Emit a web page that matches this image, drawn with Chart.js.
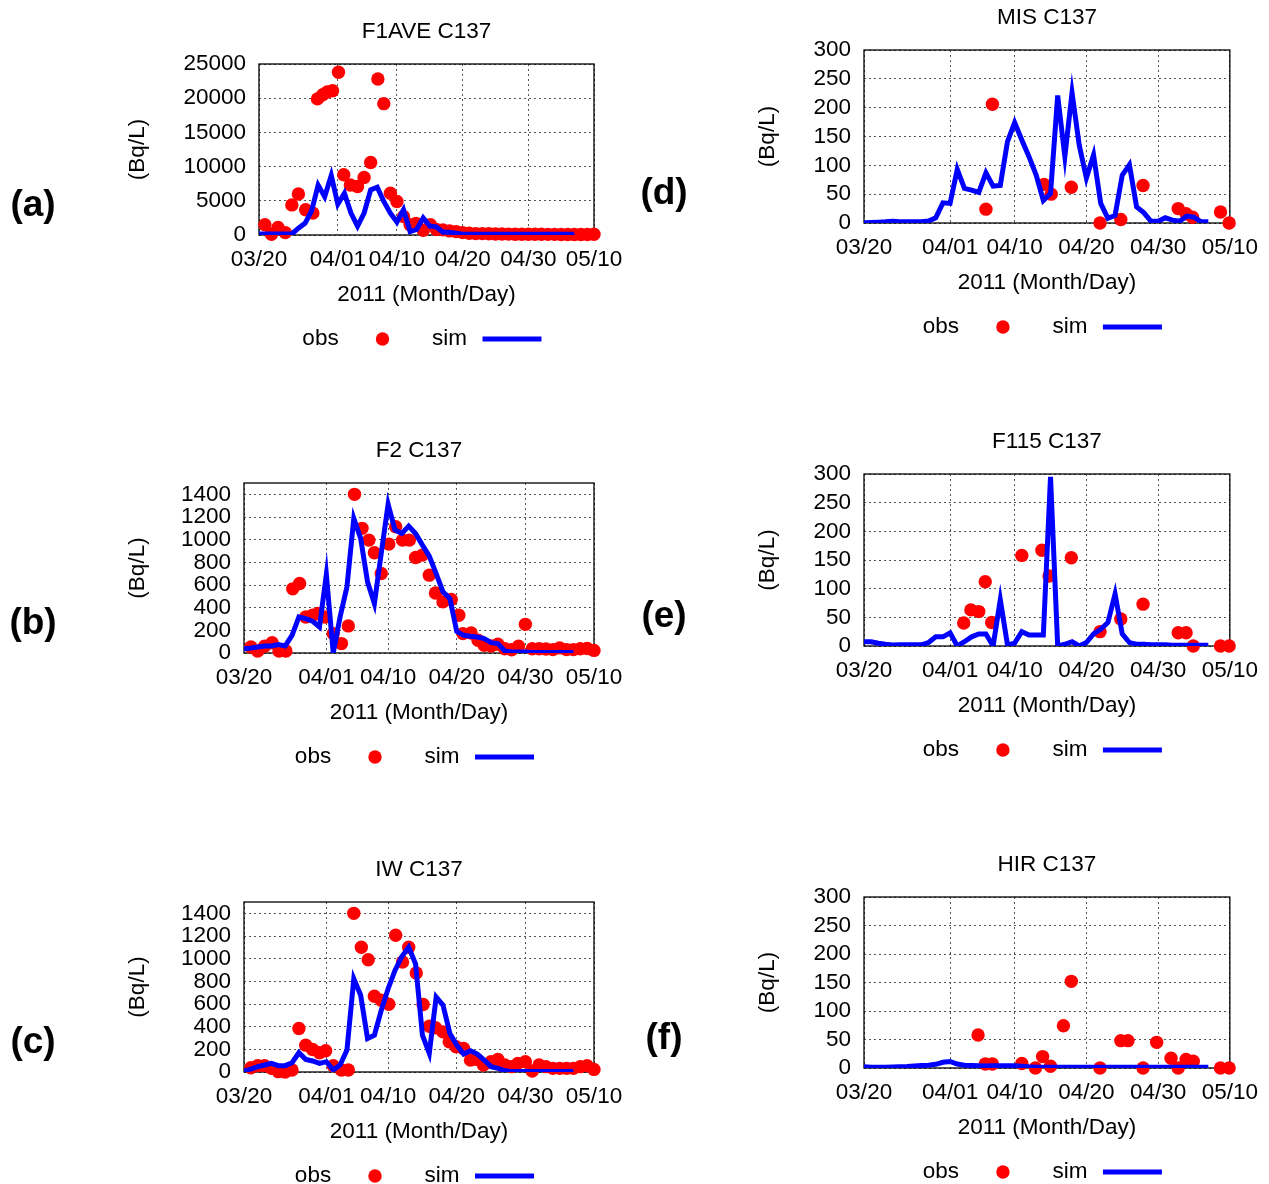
<!DOCTYPE html>
<html>
<head>
<meta charset="utf-8">
<script src="https://cdn.jsdelivr.net/npm/chart.js@4.4.1/dist/chart.umd.min.js"></script>
<style>
  html, body { margin: 0; padding: 0; background: #fff; }
  body { width: 1269px; height: 1184px; position: relative; overflow: hidden; }
  canvas { position: absolute; }
</style>
</head>
<body>
<canvas id="pa"></canvas>
<canvas id="pb"></canvas>
<canvas id="pc"></canvas>
<canvas id="pd"></canvas>
<canvas id="pe"></canvas>
<canvas id="pf"></canvas>
<script>
// x axis: days since 03/20 (2011)
const tickDays = [0, 12, 21, 31, 41, 51];
const tickLabels = ['03/20', '04/01', '04/10', '04/20', '04/30', '05/10'];

const yTicksA = [0, 5000, 10000, 15000, 20000, 25000];
const yTicksBC = [0, 200, 400, 600, 800, 1000, 1200, 1400];
const yTicksDEF = [0, 50, 100, 150, 200, 250, 300];

// simulated values are daily, 03/20 .. 05/07
const simDays = [0,1,2,3,4,5,6,7,8,9,10,11,12,13,14,15,16,17,18,19,20,21,22,23,24,
  25,26,27,28,29,30,31,32,33,34,35,36,37,38,39,40,41,42,43,44,45,46,47,48];

// (a) F1AVE
const obsDaysA = [0.9,1.9,2.9,4,5,6,7.1,8.2,8.9,9.7,10.4,11.2,12.1,12.9,13.9,15,16,17,18.1,19,
  20,21,22,23,23.9,25,26.1,27,28,29,30,31,32,33,34,35,36,37,38,39,40,41,42,43,44,45,46,47,48,49,50,51];
const obsA = [1500,100,1100,350,4400,6000,3700,3200,19900,20500,20900,21100,23800,8800,7300,7100,8400,10600,22800,19200,
  6100,4900,2700,1500,1700,700,1500,800,750,600,500,350,250,200,200,180,150,150,130,120,120,100,100,100,90,90,80,80,80,70,70,100];
const simA = [150,150,150,150,150,150,1000,1700,3500,7300,5600,8700,4500,6100,3200,1300,3200,6600,7000,4900,
  3200,1900,3700,500,800,2500,1300,1200,400,400,250,100,100,100,120,120,120,120,120,120,
  120,100,100,100,100,100,100,100,100];

// (b) F2
const obsDaysB = [1,2,3,4.1,5.1,6.1,7.1,8.1,9,10,10.8,11.8,13,14.2,15.2,16.1,17.2,18.2,19,20,
  21.1,22.1,23.1,24.1,25,26,27,27.9,29,30.2,31.3,31.9,33.1,34.1,35,36,37,38,39,40,41,42,43,44,45,46,47,48,49,50,51];
const obsB = [53,18,59,91,18,18,566,613,318,333,348,318,171,83,239,1400,1100,996,884,701,
  961,1114,996,996,843,864,687,530,451,472,333,171,177,112,68,62,77,38,29,59,253,38,38,35,30,45,30,30,38,40,23];
const simB = [38,44,53,62,62,74,62,156,318,303,280,230,693,0,318,583,1188,1011,628,436,
  880,1314,1085,1055,1120,1055,952,855,701,539,480,190,156,147,141,127,91,83,18,9,
  9,9,5,5,5,5,5,5,5];

// (c) IW
const obsDaysC = [1,2,3,4,5,6,7,8,9,10,11,11.9,13,14.2,15.2,16,17.1,18.1,19,20,
  21.1,22.1,23.1,24,25.1,26.1,27,27.9,29,29.9,30.9,32,33,33.9,34.9,36,37,38,39,39.9,41,42,43,44,45,46,47,48,49,50,51];
const obsC = [38,56,56,32,3,0,18,384,237,199,170,187,56,18,18,1400,1101,990,668,633,
  598,1207,970,1101,873,595,404,390,354,267,223,208,105,111,62,91,111,62,47,76,91,9,62,47,32,32,32,32,47,56,23];
const simC = [9,26,47,62,76,56,56,82,170,111,97,76,91,18,62,193,823,677,296,325,
  545,735,896,1019,1101,955,325,164,662,589,340,237,158,187,158,105,47,32,12,5,
  5,5,5,5,5,5,5,5,5];

// (d) MIS
const obsDaysD = [17,17.9,25.1,26.1,28.9,32.9,35.8,38.9,43.8,44.9,45.8,49.7,50.9];
const obsD = [24,206,67,50,62,0,6,65,25,16,10,19,0];
const simD = [0.5,1,1.5,2,3,2,2,2,2,3.5,9,35,34,93,60,57,53,87,64,65,
  141,174,144,115,83,39,51,221,115,226,135,78,118,34,8,13,83,101,28,18,
  3,3,9,5,3,12,10,2,2];

// (e) F115
const obsDaysE = [13.9,14.9,16,16.9,17.8,22,24.8,25.8,28.9,32.9,35.8,38.9,43.8,44.9,45.9,49.7,50.9];
const obsE = [40,63,60,112,41,158,167,122,154,25,47,73,23,23,0,0,0];
const simE = [7.5,7.5,4.7,3,1.7,2,2,2,2,6,16,16,23,0,7.5,16,21,21,0,81,
  2,5,25,19,19,19,295,0,3,7.5,0,6,21,29,41,91,21,6,3,3,
  2,2,2,1.5,1.5,1.5,1.5,1.5,1.5];

// (f) HIR
const obsDaysF = [15.9,16.9,17.9,22,23.9,24.9,26,27.8,28.9,32.9,35.8,36.8,38.9,40.8,42.8,43.8,44.9,45.9,49.7,50.9];
const obsF = [58,7,7,8,0,20,3,74,152,0,48,48,0,45,17,0,15,12,0,0];
const simF = [2,1.5,1.5,1.5,1.7,2,2.5,3.5,4.5,5,6.5,10,11.5,7,5,4.5,4,3.5,4,4,
  4,4,3,2,1.5,1.5,1.5,1.5,1.5,1.5,1.5,1.5,1.5,1.5,1.5,1.5,1.5,1.5,1.5,1.5,
  1.5,1.5,1.5,1.5,1.5,1.5,1.5,1.5,1.5];

const FONT = '"Liberation Sans", Arial, Helvetica, sans-serif';
const FS = 22.5;
const RED = '#ff0000';
const BLUE = '#0000ff';

// frame, titles, axis labels, legend and panel letter
const decor = {
  id: 'decor',
  beforeDatasetsDraw(chart) {
    const { ctx, chartArea: a } = chart;
    ctx.save();
    ctx.strokeStyle = '#000';
    ctx.lineWidth = 1.3;
    ctx.strokeRect(a.left, a.top, a.right - a.left, a.bottom - a.top);
    ctx.restore();
  },
  afterDraw(chart, args, o) {
    const { ctx, chartArea: a } = chart;
    const cx = (a.left + a.right) / 2;
    ctx.save();
    ctx.fillStyle = '#000';
    ctx.font = FS + 'px ' + FONT;
    ctx.textAlign = 'center';
    ctx.textBaseline = 'middle';
    ctx.fillText(o.title, cx, a.top - 32);
    ctx.fillText('2011 (Month/Day)', cx, a.bottom + 60);

    const ly = a.bottom + 104;
    ctx.fillText('obs', cx - 106, ly);
    ctx.fillText('sim', cx + 23, ly);
    ctx.fillStyle = RED;
    ctx.beginPath();
    ctx.arc(cx - 44, ly, 6.7, 0, Math.PI * 2);
    ctx.fill();
    ctx.strokeStyle = BLUE;
    ctx.lineWidth = 5;
    ctx.beginPath();
    ctx.moveTo(cx + 56, ly);
    ctx.lineTo(cx + 115, ly);
    ctx.stroke();

    ctx.fillStyle = '#000';
    ctx.save();
    ctx.translate(o.ylabelX, (a.top + a.bottom) / 2);
    ctx.rotate(-Math.PI / 2);
    ctx.fillText('(Bq/L)', 0, 0);
    ctx.restore();

    ctx.font = 'bold 37px ' + FONT;
    ctx.fillText(o.letter, o.letterX, a.bottom - 29);
    ctx.restore();
  }
};

const panels = [
  { id: 'pa', letter: '(a)', title: 'F1AVE C137', x0: 0, y0: 0, w: 634, h: 390,
    pad: { left: 179, right: 40, top: 64, bottom: 115 }, yMax: 25000, yTicks: yTicksA,
    obsX: obsDaysA, obsY: obsA, sim: simA, letterX: 33, ylabelX: 138 },
  { id: 'pb', letter: '(b)', title: 'F2 C137', x0: 0, y0: 390, w: 634, h: 420,
    pad: { left: 164, right: 40, top: 93, bottom: 117 }, yMax: 1500, yTicks: yTicksBC,
    obsX: obsDaysB, obsY: obsB, sim: simB, letterX: 33, ylabelX: 138 },
  { id: 'pc', letter: '(c)', title: 'IW C137', x0: 0, y0: 810, w: 634, h: 374,
    pad: { left: 164, right: 40, top: 92, bottom: 72 }, yMax: 1500, yTicks: yTicksBC,
    obsX: obsDaysC, obsY: obsC, sim: simC, letterX: 33, ylabelX: 138 },
  { id: 'pd', letter: '(d)', title: 'MIS C137', x0: 634, y0: 0, w: 635, h: 390,
    pad: { left: 150, right: 37, top: 50, bottom: 127 }, yMax: 300, yTicks: yTicksDEF,
    obsX: obsDaysD, obsY: obsD, sim: simD, letterX: 30, ylabelX: 134 },
  { id: 'pe', letter: '(e)', title: 'F115 C137', x0: 634, y0: 390, w: 635, h: 420,
    pad: { left: 150, right: 37, top: 84, bottom: 124 }, yMax: 300, yTicks: yTicksDEF,
    obsX: obsDaysE, obsY: obsE, sim: simE, letterX: 30, ylabelX: 134 },
  { id: 'pf', letter: '(f)', title: 'HIR C137', x0: 634, y0: 810, w: 635, h: 374,
    pad: { left: 150, right: 37, top: 87, bottom: 76 }, yMax: 300, yTicks: yTicksDEF,
    obsX: obsDaysF, obsY: obsF, sim: simF, letterX: 30, ylabelX: 134 }
];

Chart.defaults.font.family = FONT;
Chart.defaults.font.size = FS;
Chart.defaults.color = '#000';

const gridStyle = { color: '#555', lineWidth: 1, drawTicks: false };
const borderStyle = { display: false, dash: [2, 3] };

panels.forEach(p => {
  const el = document.getElementById(p.id);
  el.width = p.w;
  el.height = p.h;
  el.style.left = p.x0 + 'px';
  el.style.top = p.y0 + 'px';

  new Chart(el, {
    type: 'scatter',
    data: {
      datasets: [
        {
          label: 'sim',
          data: simDays.map((d, i) => ({ x: d, y: p.sim[i] })),
          showLine: true,
          borderColor: BLUE,
          borderWidth: 5,
          pointRadius: 0,
          tension: 0,
          order: 0
        },
        {
          label: 'obs',
          data: p.obsX.map((d, i) => ({ x: d, y: p.obsY[i] })),
          backgroundColor: RED,
          borderWidth: 0,
          pointRadius: 6.7,
          clip: false,
          order: 1
        }
      ]
    },
    options: {
      responsive: false,
      animation: false,
      layout: { padding: p.pad },
      plugins: {
        legend: { display: false },
        tooltip: { enabled: false },
        decor: { title: p.title, letter: p.letter, letterX: p.letterX, ylabelX: p.ylabelX }
      },
      scales: {
        x: {
          type: 'linear',
          min: 0,
          max: 51,
          afterBuildTicks: s => { s.ticks = tickDays.map(v => ({ value: v })); },
          afterFit: s => { s.height = 40; },
          ticks: {
            autoSkip: false,
            maxRotation: 0,
            minRotation: 0,
            padding: 11,
            callback: v => tickLabels[tickDays.indexOf(v)]
          },
          grid: gridStyle,
          border: borderStyle
        },
        y: {
          min: 0,
          max: p.yMax,
          afterBuildTicks: s => { s.ticks = p.yTicks.map(v => ({ value: v })); },
          afterFit: s => { s.width = 80; },
          ticks: {
            autoSkip: false,
            padding: 13,
            callback: v => String(v)
          },
          grid: gridStyle,
          border: borderStyle
        }
      }
    },
    plugins: [decor]
  });
});
</script>
</body>
</html>
